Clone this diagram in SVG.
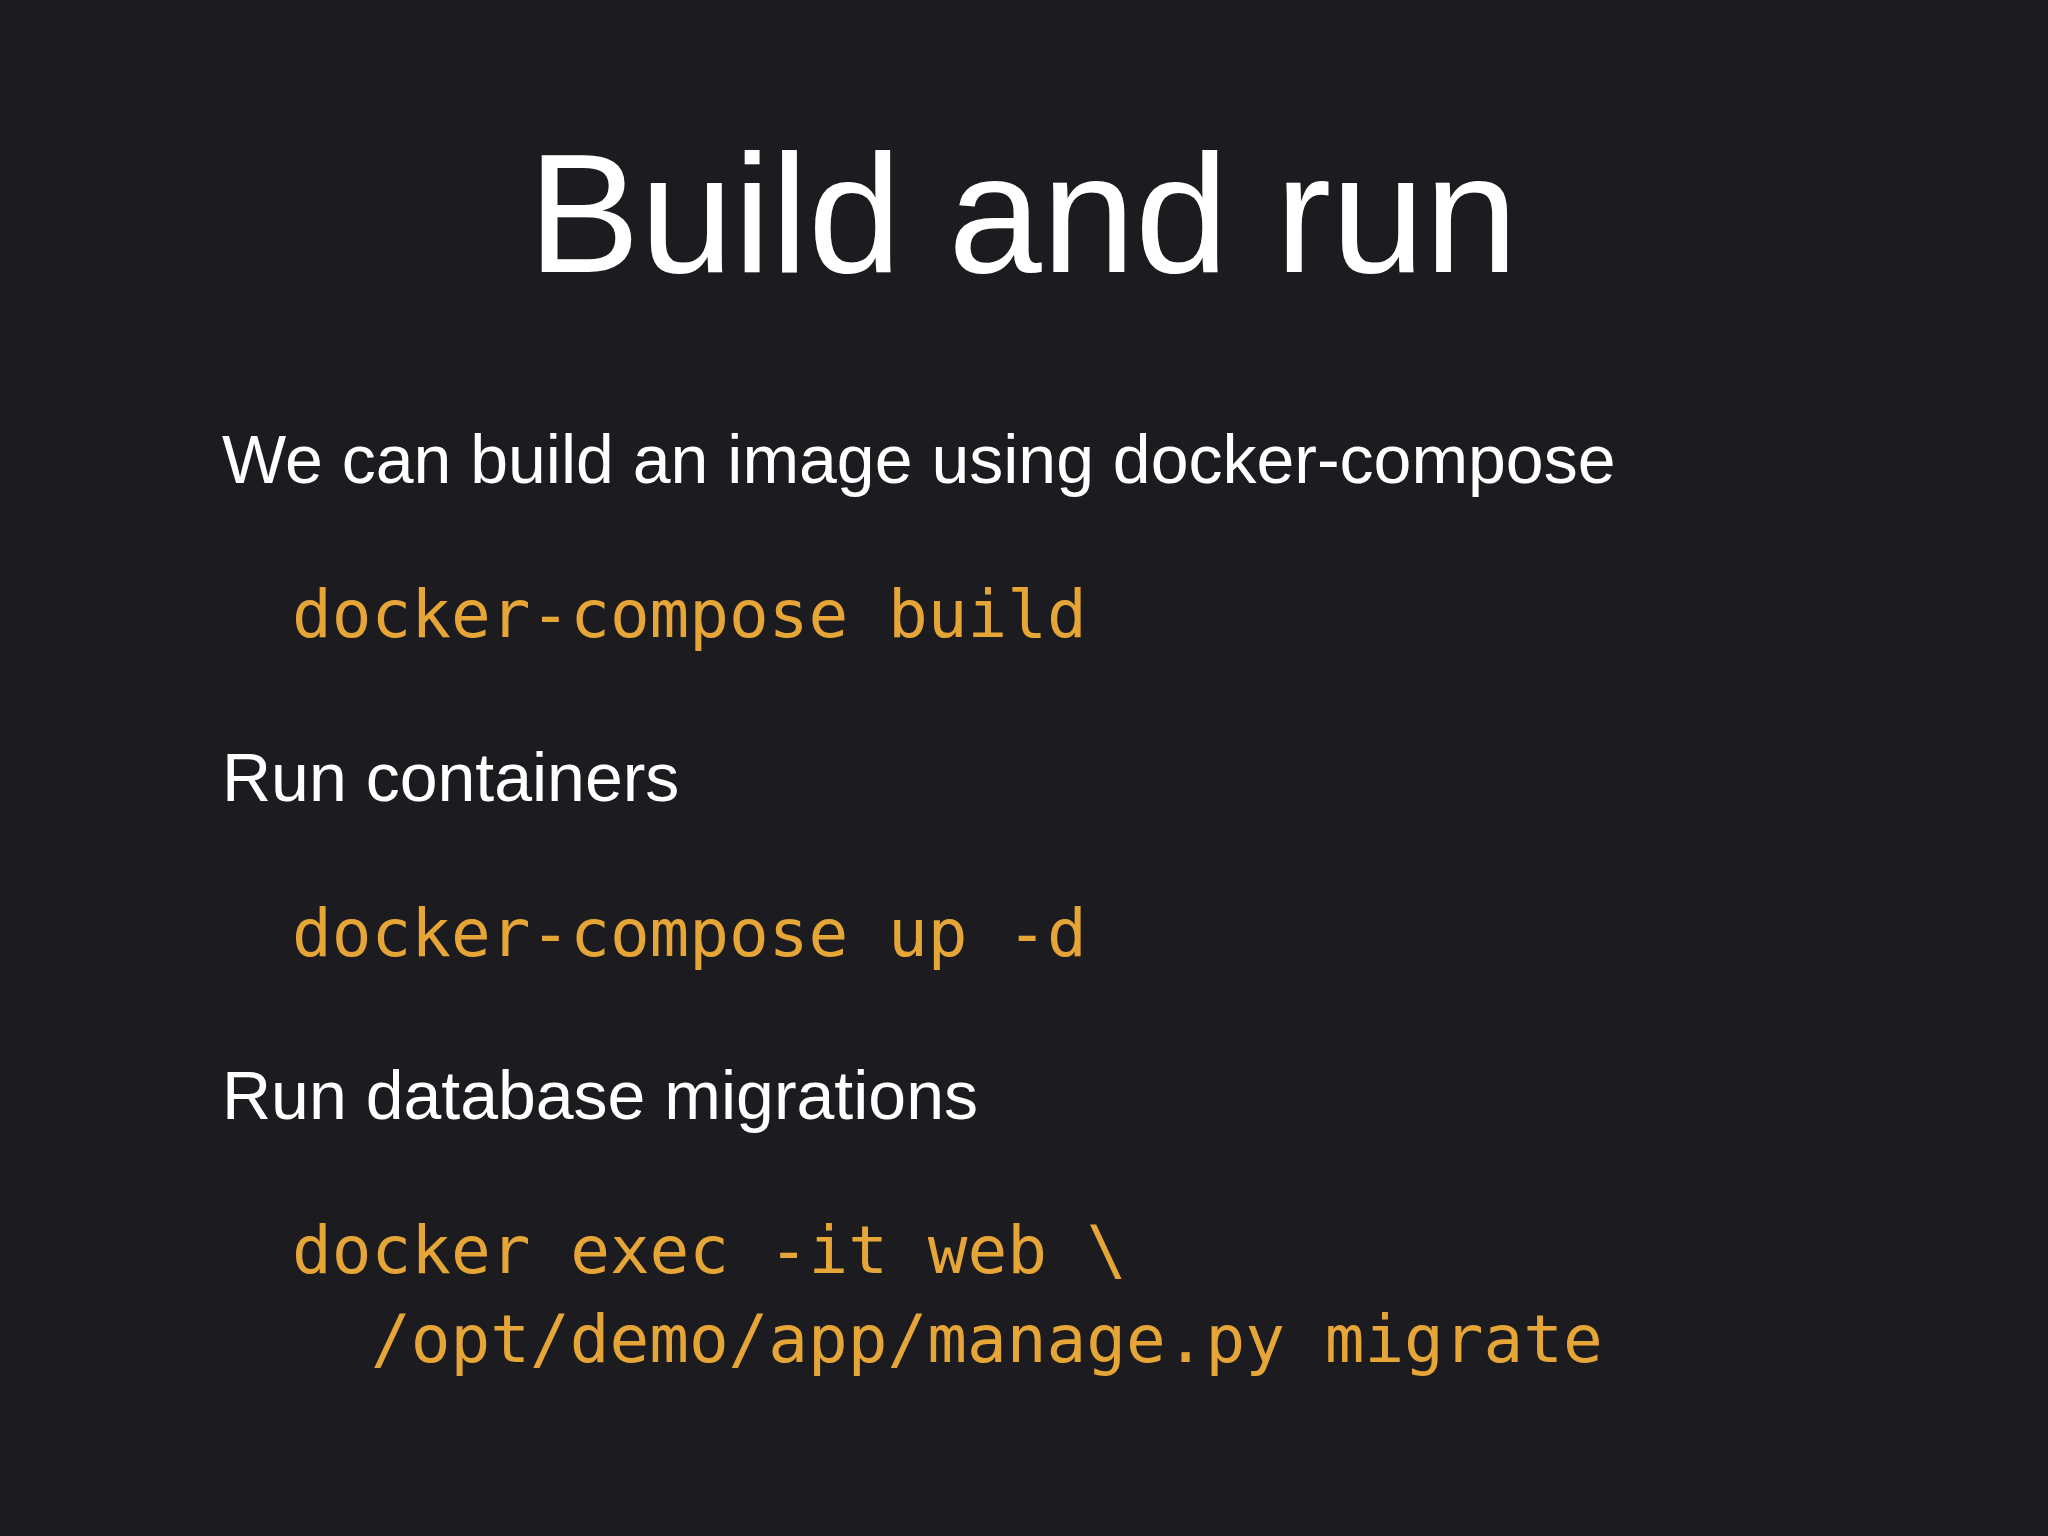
<svg xmlns="http://www.w3.org/2000/svg" width="2048" height="1536" viewBox="0 0 2048 1536">
<style>
.t{fill:#ffffff;font-family:"Liberation Sans","Noto Sans",sans-serif}
.b{fill:#ffffff;font-family:"Liberation Sans","Noto Sans",sans-serif;font-size:68px}
.c{fill:#e6a537;font-family:"DejaVu Sans Mono","Liberation Mono",monospace;font-size:66px}
</style>
<rect width="2048" height="1536" fill="#1c1c20"/>
<text class="t" x="1023" y="272" font-size="168" text-anchor="middle">Build and run</text>
<text class="b" x="222" y="483">We can build an image using docker-compose</text>
<text class="c" x="292" y="637">docker-compose build</text>
<text class="b" x="222" y="801">Run containers</text>
<text class="c" x="292" y="956">docker-compose up -d</text>
<text class="b" x="222" y="1119">Run database migrations</text>
<text class="c" x="292" y="1273">docker exec -it web \</text>
<text class="c" x="371" y="1362">/opt/demo/app/manage.py migrate</text>
</svg>
